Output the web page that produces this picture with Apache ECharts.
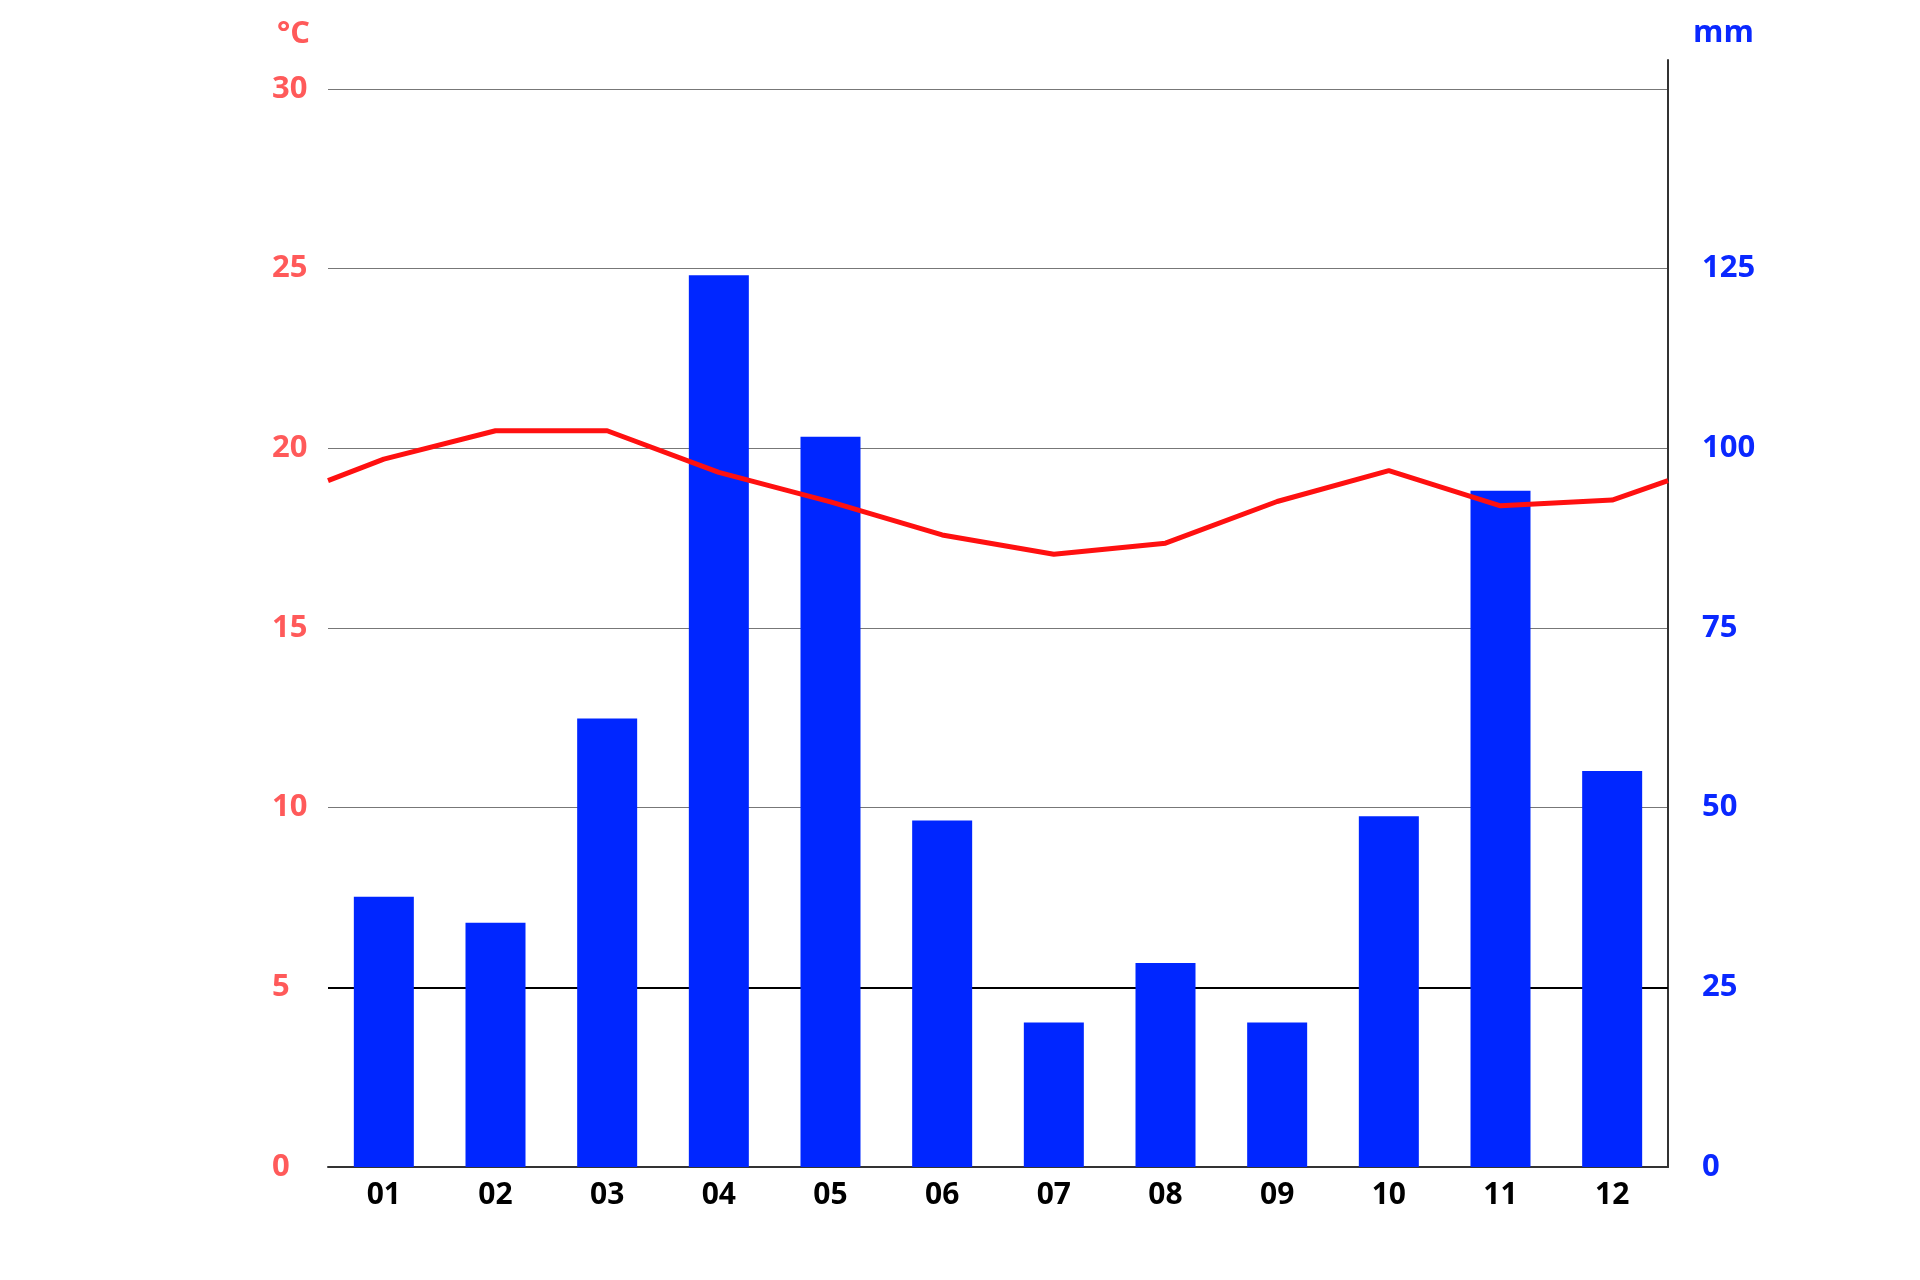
<!DOCTYPE html>
<html>
<head>
<meta charset="utf-8">
<script src="https://cdn.jsdelivr.net/npm/echarts@6/dist/echarts.min.js"></script>
<style>
html,body{margin:0;padding:0;background:#fff;}
#chart{width:1920px;height:1280px;}
</style>
</head>
<body>
<div id="chart"></div>
<script>
// Data
var months = ['01','02','03','04','05','06','07','08','09','10','11','12'];
var precipitation = [37.6, 34.0, 62.4, 124.1, 101.6, 48.2, 20.1, 28.4, 20.1, 48.8, 94.1, 55.1];
var temperature = [19.70, 20.49, 20.49, 19.33, 18.51, 17.59, 17.05, 17.36, 18.52, 19.38, 18.40, 18.56];
var tempEdgeStart = 19.1;
var tempEdgeEnd = 19.1;
var tempTicks = [0, 5, 10, 15, 20, 25, 30];
var precipTicks = [0, 25, 50, 75, 100, 125];

var FONT = 'Open Sans';
var RED = '#ff5a5a';
var BLUE = '#0a28ff';

// line points: edges + month centres on a 0..12 value axis
var lineData = [[0, tempEdgeStart]];
temperature.forEach(function (t, i) { lineData.push([i + 0.5, t]); });
lineData.push([12, tempEdgeEnd]);

var chart = echarts.init(document.getElementById('chart'), null, {renderer: 'canvas'});
var plotH = 1167 - 89;
var extH = 1167 - 60;
var precipMax = 150;
var extMax = precipMax * extH / plotH;

chart.setOption({
  backgroundColor: '#ffffff',
  animation: false,
  title: [
    {text: '°C', left: 272, top: 14, textStyle: {fontFamily: FONT, fontWeight: 'bold', fontSize: 31, color: RED}},
    {text: 'mm', left: 1688, top: 13, textStyle: {fontFamily: FONT, fontWeight: 'bold', fontSize: 31, color: BLUE}}
  ],
  grid: [
    {left: 328, right: 252, top: 89, bottom: 113},
    {left: 328, right: 252, top: 60, bottom: 113}
  ],
  xAxis: [
    {
      type: 'category', gridIndex: 0, data: months, boundaryGap: true,
      axisLine: {show: true, lineStyle: {color: '#333', width: 2}},
      axisTick: {show: false},
      axisLabel: {fontFamily: FONT, fontWeight: 'bold', fontSize: 30, color: '#000', margin: 13},
      splitLine: {show: false}
    },
    {type: 'value', gridIndex: 0, min: 0, max: 12, show: false},
    {type: 'category', gridIndex: 1, data: months, show: false}
  ],
  yAxis: [
    {
      type: 'value', gridIndex: 0, position: 'left', min: 0, max: 30, interval: 5,
      axisLine: {show: false}, axisTick: {show: false},
      axisLabel: {
        fontFamily: FONT, fontWeight: 'bold', fontSize: 31, color: RED, align: 'left', margin: 56,
        padding: [4, 0, 0, 0],
        formatter: function (v) { return tempTicks.indexOf(v) >= 0 ? String(v) : ''; }
      },
      splitLine: {show: true, lineStyle: {color: ['#333', '#000', '#777', '#777', '#777', '#777', '#777'], width: 1}}
    },
    {type: 'value', gridIndex: 0, position: 'right', min: 0, max: precipMax, interval: 25, show: false, splitLine: {show: false}},
    {
      type: 'value', gridIndex: 1, position: 'right', min: 0, max: extMax, interval: 25,
      axisLine: {show: true, onZero: false, lineStyle: {color: '#333', width: 2}},
      axisTick: {show: false},
      splitLine: {show: false},
      axisLabel: {
        fontFamily: FONT, fontWeight: 'bold', fontSize: 31, color: BLUE, margin: 34,
        padding: [3, 0, 0, 0],
        showMaxLabel: false,
        formatter: function (v) { return precipTicks.indexOf(v) >= 0 ? String(v) : ''; }
      }
    }
  ],
  series: [
    {
      type: 'bar', xAxisIndex: 0, yAxisIndex: 1, data: precipitation,
      barWidth: 60, z: 2,
      itemStyle: {color: '#0026ff'},
      markLine: {
        silent: true, z: 1, symbol: 'none', label: {show: false},
        lineStyle: {color: '#000', width: 2, type: 'solid'},
        data: [{yAxis: 25}]
      }
    },
    {
      type: 'line', xAxisIndex: 1, yAxisIndex: 0, data: lineData,
      symbol: 'none', z: 5,
      lineStyle: {color: '#ff1010', width: 5}
    }
  ]
});
</script>
</body>
</html>
